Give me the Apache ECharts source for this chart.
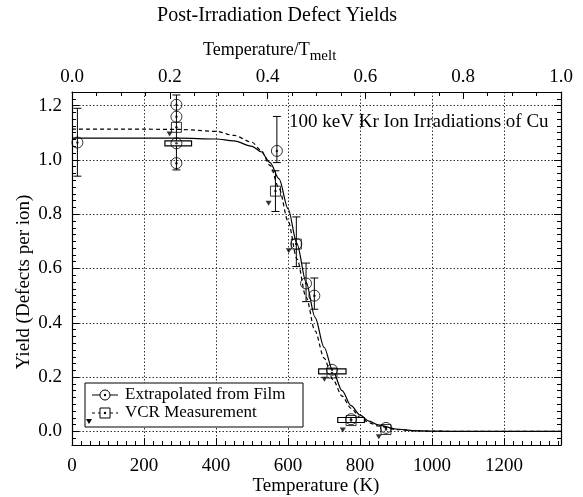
<!DOCTYPE html>
<html><head><meta charset="utf-8">
<script src="https://cdn.jsdelivr.net/npm/echarts@6/dist/echarts.min.js"></script>
<style>html,body{margin:0;padding:0;background:#fff}#c{width:583px;height:497px}</style>
</head><body><div id="c"></div>
<script>
const T_MELT = 1358;
const xTickLabels = [0, 200, 400, 600, 800, 1000, 1200];
const yTickLabels = [0, 0.2, 0.4, 0.6, 0.8, 1.0, 1.2];

// Extrapolated from film (circles) [T (K), yield]
const filmPoints = [[15,1.064],[290,1.203],[290,1.159],[290,1.061],[290,0.988],[569,1.033],[623,0.69],[650,0.545],[673,0.50],[722,0.227],[775,0.045],[872,0.013]];
// VCR measurement (squares)
const vcrPoints = [[290,1.12],[565,0.885],[623,0.69],[722,0.215],[775,0.04],[872,0.007]];
// small filled down-triangles
const vcrTriangles = [[271,1.095],[546,0.84],[602,0.665],[701,0.192],[752,0.005],[852,-0.02]];
// vertical error bars [T, low, high]
const yErrBars = [[15,0.94,1.19],[290,0.963,1.239],[569,0.99,1.16],[565,0.81,0.96],[623,0.607,0.79],[650,0.478,0.62],[673,0.45,0.565]];
// horizontal temperature boxes [Tlow, Thigh, yield]
const xErrBoxes = [[258,332,1.061],[685,761,0.221],[738,812,0.042]];
// fitted curves
const fitT      = [0,100,200,300,400,450,500,525,550,575,600,625,650,675,700,725,750,775,800,825,850,900,950,1000,1100,1358];
const filmFitY  = [1.08,1.08,1.08,1.08,1.077,1.07,1.05,1.03,0.99,0.93,0.82,0.69,0.55,0.42,0.31,0.22,0.15,0.095,0.06,0.038,0.024,0.009,0.003,0.001,0,0];
const vcrFitY   = [1.113,1.113,1.113,1.112,1.105,1.09,1.065,1.035,0.98,0.895,0.775,0.635,0.495,0.37,0.27,0.19,0.13,0.085,0.052,0.032,0.02,0.007,0.002,0.001,0,0];

const FONT = 'Liberation Serif, Times New Roman, serif';
const minorX = []; for (let v = 0; v <= 1350; v += 25) minorX.push(v);
const minorY = []; for (let i = -2; i <= 50; i++) minorY.push(+(i * 0.025).toFixed(3));

const chart = echarts.init(document.getElementById('c'), null, {renderer: 'canvas'});
const axisLineStyle = {show: true, onZero: false, lineStyle: {color: '#000', width: 1.2}};
const gridLine = {show: true, lineStyle: {type: [1.5, 2], color: '#333', width: 1}};

function errBarRender(params, api) {
  const x = api.value(0), lo = api.value(1), hi = api.value(2);
  const p1 = api.coord([x, lo]), p2 = api.coord([x, hi]);
  const w = 4;
  const st = {stroke: '#000', lineWidth: 1};
  return {type: 'group', children: [
    {type: 'line', shape: {x1: p1[0], y1: p1[1], x2: p2[0], y2: p2[1]}, style: st},
    {type: 'line', shape: {x1: p1[0]-w, y1: p1[1], x2: p1[0]+w, y2: p1[1]}, style: st},
    {type: 'line', shape: {x1: p2[0]-w, y1: p2[1], x2: p2[0]+w, y2: p2[1]}, style: st}
  ]};
}
function boxRender(params, api) {
  const p1 = api.coord([api.value(0), api.value(2)]), p2 = api.coord([api.value(1), api.value(2)]);
  return {type: 'rect', shape: {x: p1[0], y: p1[1]-2.5, width: p2[0]-p1[0], height: 5},
    style: {fill: '#fff', stroke: '#000', lineWidth: 1.2}};
}

const option = {
  animation: false,
  backgroundColor: '#fff',
  grid: {left: 72, right: 22, top: 92, bottom: 52, containLabel: false, outerBoundsMode: 'none'},
  xAxis: [
    {type: 'value', position: 'bottom', min: 0, max: T_MELT,
     axisLine: axisLineStyle,
     axisTick: {show: true, inside: true, length: 7, customValues: xTickLabels, lineStyle: {color: '#000'}},
     axisLabel: {customValues: xTickLabels, color: '#000', fontFamily: FONT, fontSize: 19, margin: 12, formatter: v => String(v)},
     splitLine: gridLine},
    {type: 'value', position: 'top', min: 0, max: 1, interval: 0.2,
     axisLine: axisLineStyle,
     axisTick: {show: true, inside: true, length: 7, lineStyle: {color: '#000'}},
     minorTick: {show: true, splitNumber: 4, length: 4, lineStyle: {color: '#000'}},
     axisLabel: {color: '#000', fontFamily: FONT, fontSize: 19, margin: 5, formatter: v => v.toFixed(1)},
     splitLine: {show: false}},
    {type: 'value', position: 'bottom', min: 0, max: T_MELT,
     axisLine: {show: false, onZero: false}, axisLabel: {show: false}, splitLine: {show: false},
     axisTick: {show: true, inside: true, length: 4, customValues: minorX, lineStyle: {color: '#000'}}}
  ],
  yAxis: [
    {type: 'value', position: 'left', min: -0.05, max: 1.25,
     axisLine: axisLineStyle,
     axisTick: {show: true, inside: true, length: 7, customValues: yTickLabels, lineStyle: {color: '#000'}},
     axisLabel: {customValues: yTickLabels, color: '#000', fontFamily: FONT, fontSize: 19, margin: 10, formatter: v => v.toFixed(1)},
     splitLine: gridLine},
    {type: 'value', position: 'right', min: -0.05, max: 1.25,
     axisLine: axisLineStyle, axisLabel: {show: false}, splitLine: {show: false},
     axisTick: {show: true, inside: true, length: 7, customValues: yTickLabels, lineStyle: {color: '#000'}}},
    {type: 'value', position: 'left', min: -0.05, max: 1.25,
     axisLine: {show: false, onZero: false}, axisLabel: {show: false}, splitLine: {show: false},
     axisTick: {show: true, inside: true, length: 4, customValues: minorY, lineStyle: {color: '#000'}}},
    {type: 'value', position: 'right', min: -0.05, max: 1.25,
     axisLine: {show: false, onZero: false}, axisLabel: {show: false}, splitLine: {show: false},
     axisTick: {show: true, inside: true, length: 4, customValues: minorY, lineStyle: {color: '#000'}}}
  ],
  series: [
    {type: 'line', name: 'film fit', data: fitT.map((t, i) => [t, filmFitY[i]]), showSymbol: false,
     smooth: 0.3, smoothMonotone: 'x', lineStyle: {color: '#000', width: 1.2}, z: 2},
    {type: 'line', name: 'vcr fit', data: fitT.map((t, i) => [t, vcrFitY[i]]), showSymbol: false,
     smooth: 0.3, smoothMonotone: 'x', lineStyle: {color: '#000', width: 1.2, type: [4, 3]}, z: 2},
    {type: 'custom', name: 'err', data: yErrBars, renderItem: errBarRender, encode: {x: 0, y: [1, 2]}, z: 3},
    {type: 'custom', name: 'box', data: xErrBoxes, renderItem: boxRender, encode: {x: [0, 1], y: 2}, z: 4},
    {type: 'scatter', name: 'Extrapolated from Film', data: filmPoints, symbol: 'circle', symbolSize: 11,
     itemStyle: {color: 'rgba(255,255,255,0)', borderColor: '#000', borderWidth: 1}, z: 5},
    {type: 'scatter', name: 'VCR Measurement', data: vcrPoints, symbol: 'rect', symbolSize: 10,
     itemStyle: {color: 'rgba(255,255,255,0)', borderColor: '#000', borderWidth: 1}, z: 5},
    {type: 'scatter', name: 'dots', data: filmPoints.concat(vcrPoints), symbol: 'circle', symbolSize: 2.5,
     itemStyle: {color: '#000'}, z: 6},
    {type: 'scatter', name: 'tri', data: vcrTriangles, symbol: 'triangle', symbolRotate: 180, symbolSize: [6, 5],
     itemStyle: {color: '#000'}, z: 6}
  ],
  graphic: []
};

// top axis name with subscript
const ctx = document.createElement('canvas').getContext('2d');
ctx.font = '18px ' + FONT;
const wMain = ctx.measureText('Temperature/T').width;
const topNameX = 203;
option.graphic.push(
  {type: 'text', x: 277, y: 6, style: {text: 'Post-Irradiation Defect Yields', font: '20px ' + FONT, fill: '#000', textAlign: 'center'}},
  {type: 'text', x: topNameX, y: 41, style: {text: 'Temperature/T', font: '18px ' + FONT, fill: '#000'}},
  {type: 'text', x: topNameX + wMain, y: 49, style: {text: 'melt', font: '15px ' + FONT, fill: '#000'}},
  {type: 'text', x: 316, y: 486, style: {text: 'Temperature (K)', font: '19px ' + FONT, fill: '#000', textAlign: 'center', textVerticalAlign: 'middle'}},
  {type: 'text', x: 24, y: 282, rotation: Math.PI / 2, style: {text: 'Yield (Defects per ion)', font: '19px ' + FONT, fill: '#000', textAlign: 'center', textVerticalAlign: 'middle'}},
  {type: 'text', x: 289, y: 113, style: {text: '100 keV Kr Ion Irradiations of Cu', font: '19px ' + FONT, fill: '#000'}},
  // legend box
  {type: 'rect', shape: {x: 85, y: 383, width: 218, height: 44}, style: {fill: '#fff', stroke: '#000', lineWidth: 1}, z: 10},
  {type: 'line', shape: {x1: 92, y1: 395, x2: 118, y2: 395}, style: {stroke: '#000', lineWidth: 1}, z: 11},
  {type: 'circle', shape: {cx: 105, cy: 395, r: 5}, style: {fill: '#fff', stroke: '#000', lineWidth: 1}, z: 12},
  {type: 'circle', shape: {cx: 105, cy: 395, r: 1.2}, style: {fill: '#000'}, z: 13},
  {type: 'text', x: 125, y: 386, style: {text: 'Extrapolated from Film', font: '17px ' + FONT, fill: '#000'}, z: 11},
  {type: 'line', shape: {x1: 92, y1: 413, x2: 118, y2: 413}, style: {stroke: '#000', lineWidth: 1, lineDash: [3, 3]}, z: 11},
  {type: 'rect', shape: {x: 100, y: 408, width: 10, height: 10}, style: {fill: '#fff', stroke: '#000', lineWidth: 1}, z: 12},
  {type: 'circle', shape: {cx: 105, cy: 413, r: 1.2}, style: {fill: '#000'}, z: 13},
  {type: 'polygon', shape: {points: [[86, 419], [92, 419], [89, 424]]}, style: {fill: '#000'}, z: 13},
  {type: 'text', x: 125, y: 404, style: {text: 'VCR Measurement', font: '17px ' + FONT, fill: '#000'}, z: 11}
);
chart.setOption(option);
</script>
</body></html>
